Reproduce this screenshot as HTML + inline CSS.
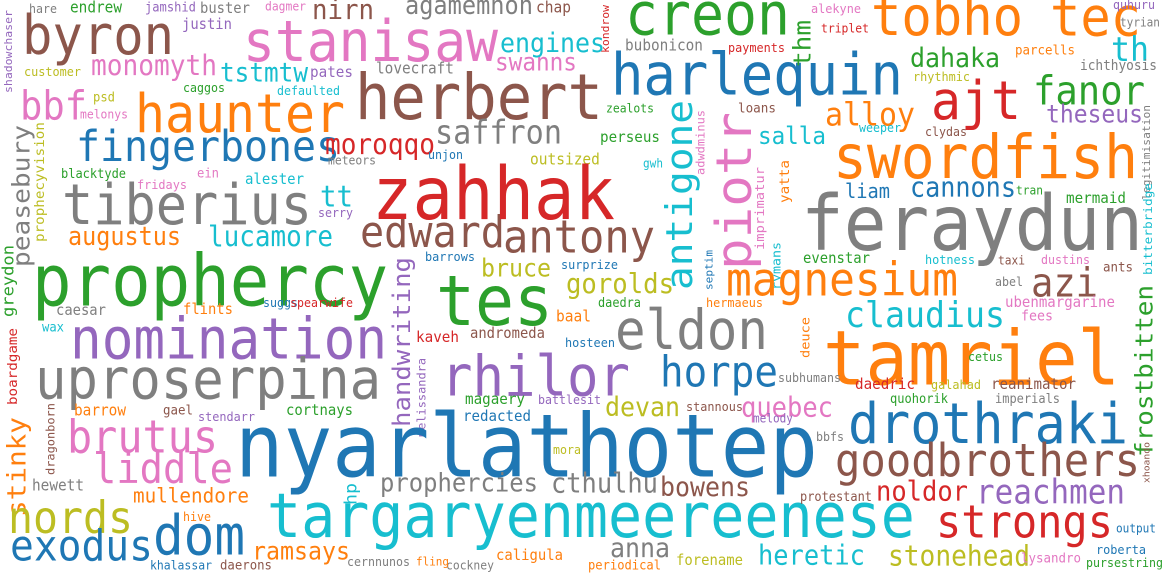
<!DOCTYPE html>
<html><head><meta charset="utf-8">
<style>
html,body{margin:0;padding:0;background:#fff;}
#cloud{position:relative;width:1163px;height:581px;overflow:hidden;background:#fff;}
#cloud span{position:absolute;display:block;white-space:nowrap;line-height:1;font-family:"DejaVu Sans Mono","Liberation Mono",monospace;transform-origin:0 0;}
</style></head>
<body>
<div id="cloud"></div>
<script>
// word cloud data: [word, x, baselineY, extent(px), colorKey, vertical]
const words = [
["hare",29,14,28,"y",0],["endrew",70,14,52,"g",0],["jamshid",145,12,51,"p",0],["buster",200,15,50,"y",0],
["dagmer",265,11,41,"k",0],["nirn",312,21,62,"n",0],["byron",22,55,152,"n",0],["stanisaw",243,63,255,"k",0],
["justin",182,31,50,"p",0],["monomyth",91,76,126,"k",0],["tstmtw",220,82,88,"c",0],["customer",24,77,57,"l",0],
["pates",310,78,43,"p",0],["lovecraft",376,75,78,"y",0],["shadowchaser",13,93,83,"p",1],["bbf",20,120,67,"k",0],
["psd",93,102,22,"l",0],["caggos",183,93,42,"g",0],["defaulted",277,96,63,"c",0],["melonys",80,119,48,"k",0],
["haunter",135,133,210,"o",0],["herbert",355,120,248,"n",0],["fingerbones",76,163,264,"b",0],["moroqqo",325,155,110,"r",0],
["meteors",328,165,48,"y",0],["peasebury",30,267,142,"y",1],["prophecyvision",45,242,120,"l",1],["blacktyde",61,178,65,"g",0],
["ein",197,178,22,"k",0],["fridays",137,190,50,"k",0],["alester",245,185,59,"c",0],["tt",320,208,33,"c",0],
["serry",318,218,35,"p",0],["tiberius",62,226,250,"y",0],["augustus",68,246,113,"o",0],["lucamore",208,248,125,"c",0],
["edward",360,248,145,"n",0],["antony",503,253,152,"n",0],["prophercy",32,307,356,"g",0],["greydon",14,317,72,"g",1],
["agamemnon",405,15,128,"y",0],["chap",536,14,35,"n",0],["kondrow",610,53,48,"r",1],["creon",625,35,165,"g",0],
["engines",500,53,105,"c",0],["swanns",495,72,82,"k",0],["bubonicon",625,52,78,"y",0],["payments",728,53,57,"r",0],
["harlequin",611,95,292,"b",0],["zealots",606,113,48,"g",0],["loans",738,113,38,"n",0],["saffron",435,145,127,"y",0],
["antigone",693,290,190,"c",1],["piotr",752,270,158,"k",1],["adwdminus",705,175,65,"k",1],["imprimatur",766,250,83,"k",1],
["rymans",781,290,48,"c",1],["septim",713,290,40,"b",1],["perseus",600,143,60,"g",0],["unjon",428,160,35,"b",0],
["outsized",530,166,70,"l",0],["gwh",643,168,20,"c",0],["zahhak",372,220,243,"r",0],["barrows",425,262,50,"b",0],
["surprize",561,270,57,"b",0],["bruce",481,277,70,"l",0],["handwriting",411,427,170,"p",1],["gorolds",566,295,108,"l",0],
["tes",436,327,117,"g",0],["magnesium",726,297,232,"o",0],["daedra",598,308,43,"g",0],["hermaeus",706,308,57,"o",0],
["baal",556,323,35,"o",0],["eldon",615,350,153,"y",0],["kaveh",416,343,43,"r",0],["andromeda",470,340,75,"n",0],
["hosteen",565,348,50,"b",0],["rhilor",441,397,189,"p",0],["horpe",660,388,118,"b",0],["quebec",741,418,92,"k",0],
["melissandra",426,437,79,"p",1],["magaery",465,405,60,"g",0],["battlesit",538,405,63,"p",0],["devan",605,417,75,"l",0],
["stannous",686,412,57,"n",0],["redacted",463,422,68,"b",0],["melody",753,423,40,"p",0],["nyarlathotep",235,478,583,"b",0],
["mora",553,455,28,"l",0],["prophercies",380,493,158,"y",0],["cthulhu",551,493,107,"y",0],["bowens",660,497,90,"n",0],
["targaryenmeereenese",267,538,648,"c",0],["anna",610,558,60,"y",0],["caligula",496,562,67,"o",0],["forename",676,567,67,"l",0],
["periodical",588,570,73,"o",0],["cockney",446,570,48,"y",0],["fling",416,567,33,"o",0],["cernnunos",347,567,63,"y",0],
["heretic",758,565,107,"c",0],
["alekyne",811,14,50,"k",0],["tobho",871,36,152,"o",0],["tec",1050,36,91,"o",0],["quhuru",1113,10,42,"p",0],
["tyrian",1120,27,40,"y",0],["triplet",821,33,48,"r",0],["thm",811,67,47,"g",1],["th",1111,63,38,"c",0],
["dahaka",910,68,90,"g",0],["parcells",1015,55,60,"o",0],["ichthyosis",1080,72,77,"y",0],["rhythmic",913,82,57,"l",0],
["ajt",931,120,90,"r",0],["fanor",1033,105,112,"g",0],["alloy",825,127,90,"o",0],["theseus",1046,124,97,"p",0],
["salla",758,145,68,"c",0],["weeper",859,133,42,"c",0],["clydas",925,137,42,"n",0],["legitimisation",1151,200,95,"y",1],
["swordfish",833,180,305,"o",0],["yatta",790,203,43,"o",1],["liam",845,200,45,"b",0],["cannons",910,197,106,"b",0],
["tran",1016,195,27,"g",0],["mermaid",1066,204,60,"g",0],["bitterbridge",1153,275,92,"c",1],["feraydun",801,250,342,"y",0],
["evenstar",803,265,67,"g",0],["hotness",925,265,50,"c",0],["taxi",998,265,27,"n",0],["dustins",1041,265,49,"k",0],
["ants",1103,272,30,"n",0],["abel",995,287,28,"y",0],["azi",1031,297,67,"n",0],
["ubenmargarine",1005,308,110,"k",0],["fees",1021,322,32,"k",0],["claudius",845,327,160,"c",0],["frostbitten",1153,457,172,"g",1],
["deuce",810,358,41,"o",1],["tamriel",823,385,297,"o",0],["cetus",968,362,35,"g",0],["subhumans",778,383,63,"y",0],
["daedric",855,390,60,"r",0],["galahad",931,390,50,"l",0],["reanimator",991,390,85,"n",0],["quohorik",890,403,58,"g",0],
["imperials",995,403,65,"y",0],["drothraki",848,445,280,"b",0],["bbfs",816,442,28,"y",0],["xhoando",1151,483,41,"n",1],
["goodbrothers",835,477,305,"n",0],["noldor",876,502,92,"r",0],["reachmen",976,505,149,"p",0],["protestant",800,502,72,"n",0],
["strongs",936,538,177,"r",0],["output",1116,533,40,"b",0],["roberta",1096,555,50,"b",0],["stonehead",888,567,142,"l",0],
["lysandro",1021,563,60,"k",0],["pursestring",1086,568,77,"g",0],
["caesar",56,317,50,"y",0],["flints",183,316,50,"o",0],["suggs",263,308,35,"b",0],["spearwife",290,308,63,"r",0],
["wax",42,332,22,"c",0],["boardgame",18,405,77,"r",1],["nomination",70,360,317,"p",0],["uproserpina",35,400,346,"y",0],
["stinky",27,517,100,"o",1],["dragonborn",55,475,72,"n",1],["barrow",74,417,52,"o",0],["gael",163,415,30,"n",0],
["stendarr",198,422,57,"p",0],["cortnays",286,417,67,"g",0],["brutus",67,453,151,"k",0],["liddle",93,485,140,"k",0],
["hewett",32,492,52,"y",0],["mullendore",133,503,116,"o",0],["hp",357,505,22,"c",1],["nords",8,533,125,"l",0],
["hive",183,522,28,"o",0],["exodus",10,562,143,"b",0],["dom",153,557,92,"b",0],["ramsays",252,560,98,"o",0],
["khalassar",150,570,62,"b",0],["daerons",220,570,52,"n",0]
];
const palette = {b:"#1f77b4",o:"#ff7f0e",g:"#2ca02c",r:"#d62728",p:"#9467bd",n:"#8c564b",k:"#e377c2",y:"#7f7f7f",l:"#bcbd22",c:"#17becf"};
const S = 1.08;
const cloud = document.getElementById('cloud');
words.forEach(w => {
  const [t, x, y, ext, col, vert] = w;
  const el = document.createElement('span');
  
  
  el.textContent = t;
  const fs = vert ? ext / S / (0.602 * t.length) : ext / (0.602 * t.length);
  el.style.fontSize = fs.toFixed(2) + 'px';
  el.style.left = x + 'px';
  el.style.top = y + 'px';
  el.style.color = palette[col];
  el.style.transform = vert
    ? `scale(1,${S}) rotate(-90deg) translateY(-0.846em)`
    : `scale(1,${S}) translateY(-0.846em)`;
  cloud.appendChild(el);
});
</script>
</body></html>
